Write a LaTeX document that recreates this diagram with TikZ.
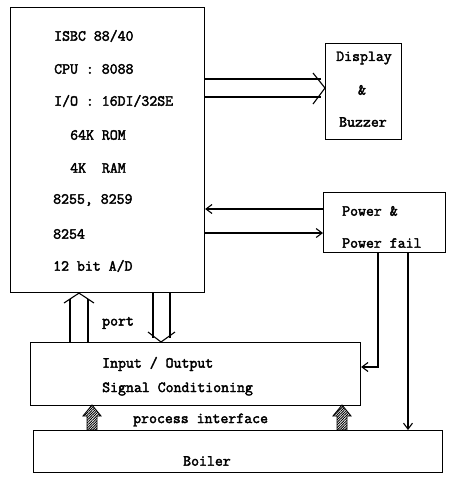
\documentclass[tikz,border=0pt]{standalone}
\usepackage{fontspec}
\setmainfont{Latin Modern Mono}[BoldFont={Latin Modern Mono},BoldFeatures={FakeBold=2.5}]
\usetikzlibrary{arrows.meta,patterns.meta}
\begin{document}
\begin{tikzpicture}[x=1pt,y=-1pt,
  box/.style={draw,line width=1.1pt,anchor=north west,inner sep=0pt},
  lbl/.style={anchor=west,inner sep=0pt,font=\bfseries\fontsize{15.4}{16}\selectfont},
  ln/.style={line width=1.1pt},
  arr/.style={line width=1.1pt,-{Straight Barb[length=6pt,width=9pt]}},
  hatch/.style={draw,line width=0.9pt,pattern={Lines[angle=45,distance=1.8pt,line width=0.9pt]}}]
\useasboundingbox (0,0) rectangle (452,477);
% boxes
\node[box,minimum width=194pt,minimum height=285pt] (cpu) at (10,7) {};
\node[box,minimum width=76pt,minimum height=96pt] (disp) at (325,43) {};
\node[box,minimum width=122pt,minimum height=60pt] (pw) at (323,192) {};
\node[box,minimum width=330pt,minimum height=63pt] (io) at (30,342) {};
\node[box,minimum width=409pt,minimum height=42pt] (boil) at (33,430) {};
% CPU text
\node[lbl] (t1) at (54,36) {ISBC 88/40};
\node[lbl] (t2) at (54,69) {CPU : 8088};
\node[lbl] (t3) at (54,101) {I/O : 16DI/32SE};
\node[lbl] (t4) at (70,135) {64K ROM};
\node[lbl] (t5) at (70,168) {4K\ \ RAM};
\node[lbl] (t6) at (53,200) {8255, 8259};
\node[lbl] (t7) at (53,234) {8254};
\node[lbl] (t8) at (53,266) {12 bit A/D};
% display text
\node[lbl,anchor=center] (d1) at (364,58) {Display};
\node[lbl,anchor=center] (d2) at (362,90) {\&};
\node[lbl,anchor=center] (d3) at (363,122) {Buzzer};
% power text
\node[lbl] (p1) at (342,211) {Power \&};
\node[lbl] (p2) at (342,243) {Power fail};
% io text
\node[lbl] (i1) at (102,364) {Input / Output};
\node[lbl] (i2) at (102,389) {Signal Conditioning};
\node[lbl] (pi) at (133,420) {process interface};
\node[lbl,anchor=center] (b1) at (207,461) {Boiler};
\node[lbl] (po) at (102,323) {port};
% CPU -> display hollow arrow
\draw[ln] (cpu.east |- 0,79) -- (321,79);
\draw[ln] (cpu.east |- 0,97) -- (321,97);
\draw[ln] (313,73) -- (disp.west |- 0,88) -- (313,104);
% power <-> cpu
\draw[arr] (pw.west |- 0,209) -- (cpu.east |- 0,209);
\draw[arr] (cpu.east |- 0,233) -- (pw.west |- 0,233);
% power -> io
\coordinate (c1) at (378,367);
\draw[arr] (pw.south -| c1) -- (c1) -- (io.east |- c1);
% power -> boiler
\coordinate (c2) at (408,0);
\draw[arr] (pw.south -| c2) -- (boil.north -| c2);
% port up arrow
\draw[ln] (io.north -| 70,0) -- (70,299);
\draw[ln] (io.north -| 88,0) -- (88,299);
\draw[ln] (64,303) -- (cpu.south -| 79,0) -- (94,303);
% port down arrow
\draw[ln] (cpu.south -| 153,0) -- (153,338);
\draw[ln] (cpu.south -| 170,0) -- (170,338);
\draw[ln] (148,332) -- (io.north -| 161,0) -- (175,332);
% hatched arrows
\draw[hatch] (87,430) -- (87,416) -- (83,416) -- (92,405) -- (101,416) -- (97,416) -- (97,430) -- cycle;
\draw[hatch] (337,430) -- (337,416) -- (333,416) -- (342,405) -- (351,416) -- (347,416) -- (347,430) -- cycle;
\end{tikzpicture}
\end{document}
